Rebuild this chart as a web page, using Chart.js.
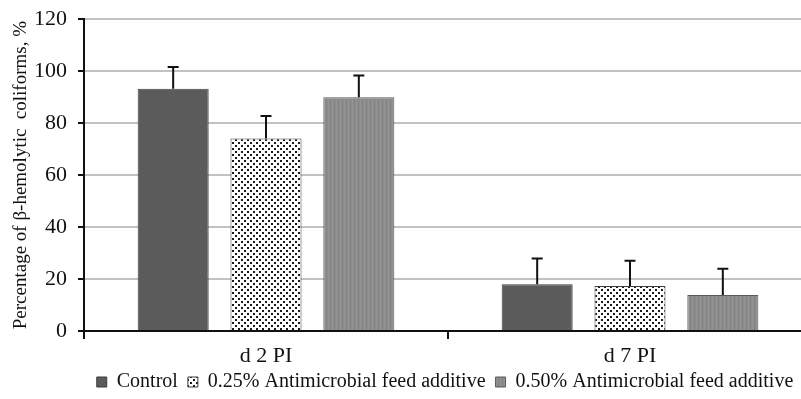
<!DOCTYPE html>
<html>
<head>
<meta charset="utf-8">
<script src="https://cdn.jsdelivr.net/npm/chart.js@4.4.1/dist/chart.umd.min.js"></script>
<style>
  html, body { margin: 0; padding: 0; background: #fff; overflow: hidden; }
  #wrap { width: 812px; height: 399px; position: relative; }
</style>
</head>
<body>
<div id="wrap"><canvas id="c"></canvas></div>
<script>
// Days post infection
const categories = ['d 2 PI', 'd 7 PI'];
const seriesNames = ['Control', '0.25% Antimicrobial feed additive', '0.50% Antimicrobial feed additive'];

// Percentage of β-hemolytic coliforms (mean) and standard error per group
const controlValues = [93.2, 18.0];
const controlErrors = [8.4, 9.9];
const low025Values = [74.1, 17.3];
const low025Errors = [8.7, 9.7];
const high050Values = [90.0, 13.9];
const high050Errors = [8.3, 10.1];

const yTicks = [0, 20, 40, 60, 80, 100, 120];

// Small tiles used as bar fills
function tile(w, h, draw) {
  const cv = document.createElement('canvas');
  cv.width = w; cv.height = h;
  const g = cv.getContext('2d');
  draw(g);
  return g.createPattern(cv, 'repeat');
}
const darkFill = tile(4, 4, g => {
  g.fillStyle = '#5b5b5b'; g.fillRect(0, 0, 4, 4);
  g.fillStyle = '#636363'; g.fillRect(0, 0, 1, 1); g.fillRect(2, 2, 1, 1);
  g.fillStyle = '#555555'; g.fillRect(2, 0, 1, 1); g.fillRect(0, 2, 1, 1);
});
const dotFill = tile(6, 6, g => {
  g.fillStyle = '#ffffff'; g.fillRect(0, 0, 6, 6);
  g.fillStyle = '#1a1a1a';
  g.fillRect(1, 1, 2, 2); g.fillRect(4, 4, 2, 2);
});
const midFill = tile(4, 4, g => {
  g.fillStyle = '#8c8c8c'; g.fillRect(0, 0, 4, 4);
  g.fillStyle = '#939393'; g.fillRect(0, 0, 1, 4);
  g.fillStyle = '#858585'; g.fillRect(2, 0, 1, 4);
});

// Draws the upper error whisker with a cap above each bar
const errorBars = {
  id: 'errorBars',
  afterDatasetsDraw(chart) {
    const ctx = chart.ctx;
    const y = chart.scales.y;
    ctx.save();
    ctx.strokeStyle = '#111';
    ctx.lineWidth = 2;
    chart.data.datasets.forEach((ds, di) => {
      const meta = chart.getDatasetMeta(di);
      meta.data.forEach((bar, i) => {
        const top = y.getPixelForValue(ds.data[i] + ds.errors[i]);
        ctx.beginPath();
        ctx.moveTo(bar.x, bar.y);
        ctx.lineTo(bar.x, top);
        ctx.moveTo(bar.x - 5.5, top);
        ctx.lineTo(bar.x + 5.5, top);
        ctx.stroke();
      });
    });
    ctx.restore();
  }
};

// Centre the legend row under the plotted categories and tuck it up a little
const legendShift = {
  id: 'legendShift',
  afterLayout(chart) {
    const lg = chart.legend;
    if (lg) {
      lg.left += 34; lg.right += 34;
      lg.top -= 5; lg.bottom -= 5;
    }
  }
};

const fontFamily = "'Liberation Serif', 'Times New Roman', serif";

new Chart(document.getElementById('c'), {
  type: 'bar',
  data: {
    labels: categories,
    datasets: [
      { label: seriesNames[0], data: controlValues, errors: controlErrors, backgroundColor: darkFill, borderColor: '#3f3f3f' },
      { label: seriesNames[1], data: low025Values, errors: low025Errors, backgroundColor: dotFill, borderColor: '#3f3f3f' },
      { label: seriesNames[2], data: high050Values, errors: high050Errors, backgroundColor: midFill, borderColor: '#5a5a5a' }
    ]
  },
  plugins: [errorBars, legendShift],
  options: {
    responsive: true,
    maintainAspectRatio: false,
    animation: false,
    layout: { padding: { top: 6, left: 10, right: 0, bottom: -8 } },
    datasets: {
      bar: { borderWidth: 1, categoryPercentage: 0.765, barPercentage: 0.765 }
    },
    plugins: {
      tooltip: { enabled: false },
      legend: {
        position: 'bottom',
        labels: {
          color: '#111',
          font: { family: fontFamily, size: 20 },
          boxWidth: 10,
          boxHeight: 10,
          padding: 10
        }
      }
    },
    scales: {
      x: {
        afterFit(axis) { axis.height = 36; },
        grid: { drawOnChartArea: false, drawTicks: true, tickLength: 8, color: '#111', lineWidth: 2, offset: true },
        border: { display: true, color: '#111', width: 2 },
        ticks: { color: '#111', font: { family: fontFamily, size: 22 }, padding: 4 }
      },
      y: {
        min: 0,
        max: 120,
        afterFit(axis) { axis.width = 74; },
        afterBuildTicks(axis) { axis.ticks = yTicks.map(v => ({ value: v })); },
        grid: { color: '#c2c2c2', lineWidth: 2, tickColor: '#111', tickLength: 6 },
        border: { display: true, color: '#111', width: 2 },
        ticks: { color: '#111', font: { family: fontFamily, size: 22, lineHeight: 0.75 }, padding: 11 },
        title: {
          display: true,
          text: 'Percentage of β-hemolytic  coliforms, %',
          color: '#111',
          font: { family: fontFamily, size: 19 },
          padding: { top: 0, bottom: 4 }
        }
      }
    }
  }
});
</script>
</body>
</html>
